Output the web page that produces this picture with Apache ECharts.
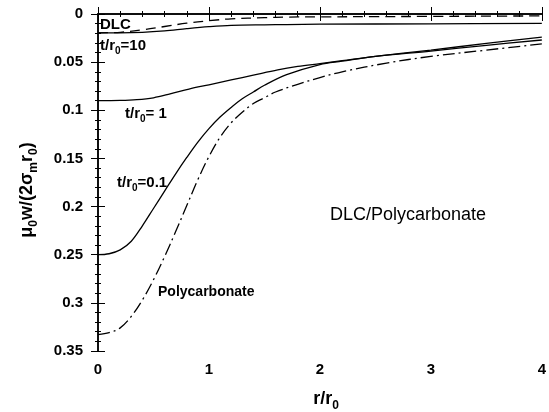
<!DOCTYPE html>
<html>
<head>
<meta charset="utf-8">
<script src="https://cdn.jsdelivr.net/npm/echarts@6/dist/echarts.min.js"></script>
<style>
  html, body { margin: 0; padding: 0; background: #fff; }
  #chart { width: 549px; height: 412px; }
</style>
</head>
<body>
<div id="chart"></div>
<script>
// r/r0 positions and normalised displacement
const rDlc = [0, 0.2, 0.4, 0.6, 0.8, 1.0, 1.2, 1.5, 1.7, 2.0, 2.5, 3.0, 3.5, 4.0];
const wDlc = [0.0195, 0.019, 0.0165, 0.013, 0.0095, 0.007, 0.005, 0.0038, 0.0032, 0.003, 0.0027, 0.0025, 0.0022, 0.002];

const rT10 = [0, 0.2, 0.4, 0.6, 0.8, 1.0, 1.2, 1.5, 1.7, 2.0, 3.0, 4.0];
const wT10 = [0.0195, 0.0195, 0.019, 0.0175, 0.0152, 0.0132, 0.0118, 0.0112, 0.0110, 0.0106, 0.0102, 0.0098];

const rT1 = [0, 0.2, 0.35, 0.5, 0.65, 0.82, 1.0, 1.2, 1.4, 1.62, 1.8, 2.0, 2.2, 2.5, 3.0, 3.5, 4.0];
const wT1 = [0.090, 0.0898, 0.089, 0.087, 0.083, 0.078, 0.0735, 0.0685, 0.0635, 0.058, 0.0545, 0.0515, 0.0485, 0.044, 0.0375, 0.0305, 0.024];

const rT01 = [0, 0.1, 0.2, 0.3, 0.4, 0.5, 0.6, 0.7, 0.8, 0.9, 1.0, 1.1, 1.2, 1.3, 1.4, 1.5, 1.7, 2.0, 2.2, 2.5, 3.0, 3.5, 4.0];
const wT01 = [0.250, 0.249, 0.245, 0.236, 0.220, 0.202, 0.184, 0.166, 0.149, 0.133, 0.119, 0.107, 0.097, 0.088, 0.081, 0.074, 0.063, 0.0525, 0.049, 0.044, 0.0385, 0.0325, 0.027];

const rPoly = [0, 0.1, 0.2, 0.3, 0.4, 0.5, 0.6, 0.7, 0.8, 0.9, 1.0, 1.1, 1.2, 1.3, 1.4, 1.5, 1.6, 1.8, 2.0, 2.2, 2.6, 3.0, 3.5, 4.0];
const wPoly = [0.333, 0.331, 0.326, 0.314, 0.297, 0.276, 0.252, 0.226, 0.199, 0.172, 0.148, 0.128, 0.113, 0.102, 0.093, 0.087, 0.081, 0.073, 0.066, 0.060, 0.051, 0.044, 0.0375, 0.031];

const xTicks = [0, 4, 1];       // min, max, interval
const yTicks = [0, 0.35, 0.05];

const zip = (xs, ys) => xs.map((x, i) => [x, ys[i]]);
const FONT = '"Liberation Sans", Arial, sans-serif';

// rich-text pieces: normal run and subscript
const txt = (size, lh) => ({ fontFamily: FONT, fontSize: size, fontWeight: 'bold', color: '#000', lineHeight: lh, verticalAlign: 'middle' });
const sub = (size, lh) => ({ fontFamily: FONT, fontSize: size, fontWeight: 'bold', color: '#000', lineHeight: lh, verticalAlign: 'bottom' });
const richSmall = { a: txt(15, 16), s: sub(10, 21) };
const richName = { a: txt(18, 19), s: sub(12, 26) };

const chart = echarts.init(document.getElementById('chart'));

const axisCommon = {
  type: 'value',
  splitLine: { show: false },
  axisLine: { lineStyle: { color: '#000', width: 1.5 } },
  axisTick: { inside: true, length: 7, lineStyle: { color: '#000' } },
  minorTick: { show: true, splitNumber: 5, length: 3, lineStyle: { color: '#000' } },
};

const line = (data, type) => ({
  type: 'line',
  data: data,
  smooth: 0.35,
  symbol: 'none',
  xAxisIndex: 0,
  yAxisIndex: 0,
  lineStyle: { color: '#000', width: 1.3, type: type },
  silent: true,
});

const option = {
  animation: false,
  backgroundColor: '#fff',
  grid: { left: 98, right: 2, top: 14, bottom: 61 },
  xAxis: [
    Object.assign({}, axisCommon, {
      min: xTicks[0], max: xTicks[1], interval: xTicks[2],
      position: 'bottom',
      axisLabel: { color: '#000', fontFamily: FONT, fontSize: 15, fontWeight: 'bold', margin: 11 },
    }),
    Object.assign({}, axisCommon, {
      min: xTicks[0], max: xTicks[1], interval: xTicks[2],
      position: 'top',
      axisLabel: { show: false },
    }),
  ],
  yAxis: [
    Object.assign({}, axisCommon, {
      min: yTicks[0], max: yTicks[1], interval: yTicks[2],
      inverse: true,
      position: 'left',
      axisLabel: { color: '#000', fontFamily: FONT, fontSize: 15, fontWeight: 'bold', margin: 15 },
    }),
    Object.assign({}, axisCommon, {
      min: yTicks[0], max: yTicks[1], interval: yTicks[2],
      inverse: true,
      position: 'right',
      axisLabel: { show: false },
    }),
  ],
  series: [
    line(zip(rT10, wT10), 'solid'),
    line(zip(rDlc, wDlc), [10, 6]),
    line(zip(rT1, wT1), 'solid'),
    line(zip(rT01, wT01), 'solid'),
    line(zip(rPoly, wPoly), [12, 4, 2, 4]),
  ],
  graphic: [
    // axis titles
    { type: 'text', x: 27, y: 190, rotation: Math.PI / 2,
      style: { text: '{a|μ}{s|0}{a|w/(2σ}{s|m}{a|r}{s|0}{a|)}', rich: richName, align: 'center', verticalAlign: 'middle' } },
    { type: 'text', x: 326, y: 399,
      style: { text: '{a|r/r}{s|0}', rich: richName, align: 'center', verticalAlign: 'middle' } },
    // in-plot labels
    { type: 'text', left: 100, top: 17, style: { text: 'DLC', font: 'bold 15px ' + FONT, fill: '#000' } },
    { type: 'text', left: 100, top: 38, style: { text: '{a|t/r}{s|0}{a|=10}', rich: richSmall } },
    { type: 'text', left: 125, top: 106, style: { text: '{a|t/r}{s|0}{a|= 1}', rich: richSmall } },
    { type: 'text', left: 117, top: 175, style: { text: '{a|t/r}{s|0}{a|=0.1}', rich: richSmall } },
    { type: 'text', left: 158, top: 285, style: { text: 'Polycarbonate', font: 'bold 14px ' + FONT, fill: '#000' } },
    { type: 'text', left: 330, top: 206, style: { text: 'DLC/Polycarbonate', font: '18px ' + FONT, fill: '#000' } },
  ],
};

chart.setOption(option);
</script>
</body>
</html>
